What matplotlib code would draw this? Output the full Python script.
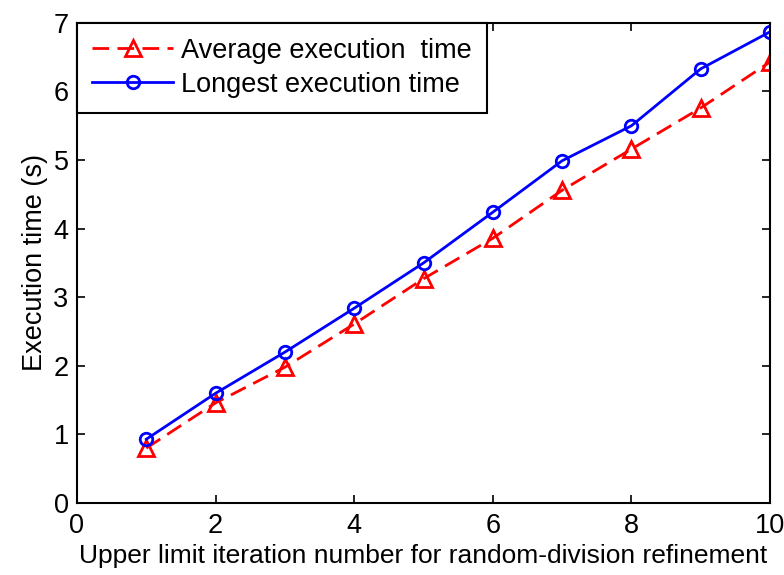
import matplotlib
matplotlib.use("Agg")
import matplotlib.pyplot as plt

x = [1, 2, 3, 4, 5, 6, 7, 8, 9, 10]
avg_time = [0.80, 1.46, 1.98, 2.61, 3.27, 3.86, 4.56, 5.16, 5.76, 6.43]
max_time = [0.93, 1.60, 2.20, 2.84, 3.50, 4.24, 4.99, 5.50, 6.33, 6.87]
xticks = [0, 2, 4, 6, 8, 10]
yticks = [0, 1, 2, 3, 4, 5, 6, 7]

FS = 19.5
plt.rcParams['font.family'] = ['Liberation Sans', 'DejaVu Sans']
fig = plt.figure(figsize=(7.84, 5.75), dpi=100)
ax = fig.add_axes([0.0982, 0.1252, 0.884, 0.835])

ax.plot(x, avg_time, color='red', linestyle=(0, (6, 3)), linewidth=2.0,
        marker='^', markersize=11, markerfacecolor='none', markeredgecolor='red',
        markeredgewidth=2.0, label='Average execution  time')
ax.plot(x, max_time, color='blue', linestyle='-', linewidth=2.0,
        marker='o', markersize=9, markerfacecolor='none', markeredgecolor='blue',
        markeredgewidth=2.0, label='Longest execution time')

ax.set_xlim(0, 10)
ax.set_ylim(0, 7)
ax.set_xticks(xticks)
ax.set_yticks(yticks)
ax.tick_params(direction='in', top=True, right=True, labelsize=FS, length=6, width=1.2)
ax.tick_params(axis='x', pad=7)
ax.tick_params(axis='y', pad=6)
for s in ax.spines.values():
    s.set_linewidth(1.5)
ax.set_xlabel('Upper limit iteration number for random-division refinement', fontsize=19, labelpad=4)
ax.set_ylabel('Execution time (s)', fontsize=FS, labelpad=4)

leg = ax.legend(loc='upper left', fontsize=FS, fancybox=False, edgecolor='black',
                borderaxespad=0, handlelength=3.0, handletextpad=0.3,
                labelspacing=0.3, borderpad=0.55, framealpha=1)
leg.get_frame().set_linewidth(1.5)

fig.savefig('out.png', dpi=100)
